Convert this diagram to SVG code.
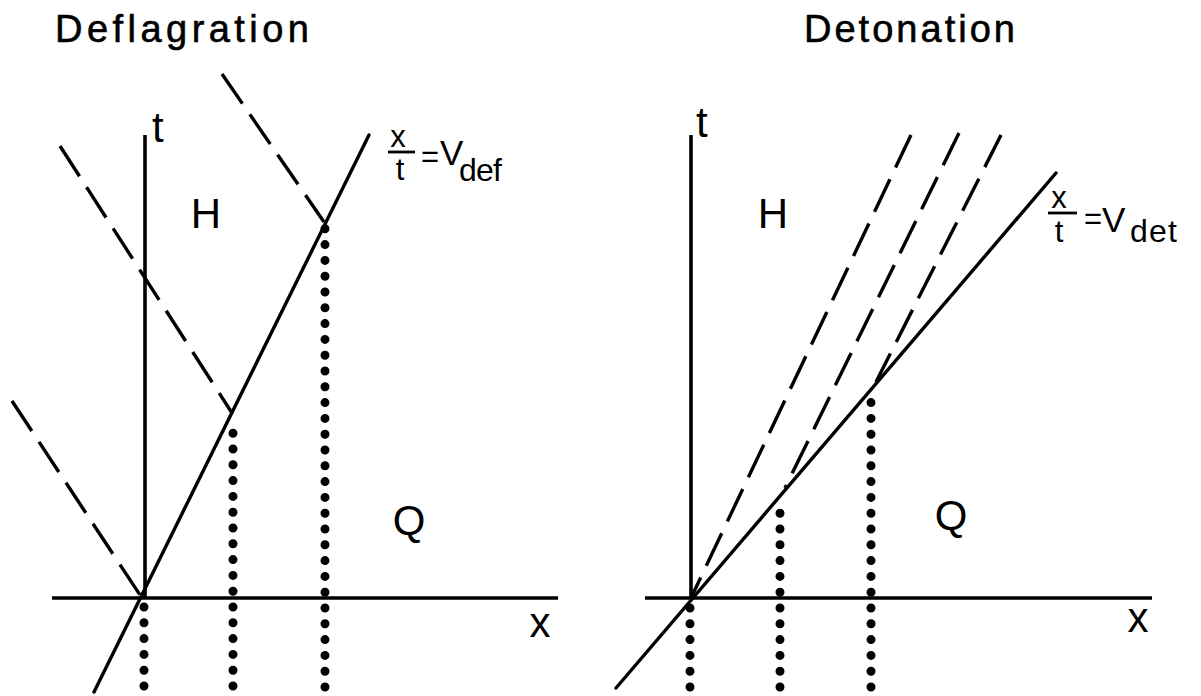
<svg xmlns="http://www.w3.org/2000/svg" width="1201" height="696" viewBox="0 0 1201 696">
<style>
text { font-family: "Liberation Sans", Arial, sans-serif; fill: #000; }
.title { font-size: 38px; stroke: #000; stroke-width: 0.6; }
.lbl { font-size: 42px; }
.frac { font-size: 31px; }
.big { font-size: 35px; }
.sub { font-size: 32px; }
.axis { stroke: #000; stroke-width: 3.6; fill: none; }
.solid { stroke: #000; stroke-width: 3.4; fill: none; stroke-linecap: round; }
.dash { stroke: #000; stroke-width: 3.4; fill: none; stroke-dasharray: 36 13; }
.dots { stroke: #000; stroke-width: 9; fill: none; stroke-linecap: round; stroke-dasharray: 0 15.8; }
.bar { stroke: #000; stroke-width: 2.8; }
</style>
<rect width="1201" height="696" fill="#fff"/>

<g id="deflagration">
  <text id="title-deflagration" class="title" x="55" y="42" textLength="254">Deflagration</text>
  <g id="axes-left">
    <line class="axis" x1="145" y1="135" x2="145" y2="598"/>
    <line class="axis" x1="52" y1="598" x2="558" y2="598"/>
    <text class="lbl" x="152" y="142">t</text>
    <text class="lbl" x="540" y="637" text-anchor="middle">x</text>
  </g>
  <text id="H-left" class="lbl" x="206" y="228" text-anchor="middle">H</text>
  <text id="Q-left" class="lbl" x="409" y="535" text-anchor="middle">Q</text>
  <g id="label-vdef">
    <text class="frac" x="398" y="147" text-anchor="middle">x</text>
    <line class="bar" x1="388" y1="152" x2="415" y2="152"/>
    <text class="frac" x="400" y="180" text-anchor="middle">t</text>
    <text class="frac" x="430" y="167" text-anchor="middle">=</text>
    <text class="big" x="440" y="165">V</text>
    <text class="sub" x="459" y="181" textLength="43">def</text>
  </g>
</g>

<g id="detonation">
  <text id="title-detonation" class="title" x="804" y="42" textLength="211">Detonation</text>
  <g id="axes-right">
    <line class="axis" x1="691" y1="135" x2="691" y2="598"/>
    <line class="axis" x1="645" y1="598" x2="1152" y2="598"/>
    <text class="lbl" x="696" y="137">t</text>
    <text class="lbl" x="1138" y="632" text-anchor="middle">x</text>
  </g>
  <text id="H-right" class="lbl" x="773" y="228" text-anchor="middle">H</text>
  <text id="Q-right" class="lbl" x="951" y="530" text-anchor="middle">Q</text>
  <g id="label-vdet">
    <text class="frac" x="1059" y="208" text-anchor="middle">x</text>
    <line class="bar" x1="1048" y1="213" x2="1077" y2="213"/>
    <text class="frac" x="1059" y="242" text-anchor="middle">t</text>
    <text class="frac" x="1093" y="229" text-anchor="middle">=</text>
    <text class="big" x="1102" y="232">V</text>
    <text class="sub" x="1130" y="242" textLength="47">det</text>
  </g>
</g>

<g id="connectors">
  <!-- deflagration -->
  <line class="solid" x1="94" y1="692" x2="369" y2="135"/>
  <line class="dash" x1="222" y1="74" x2="324" y2="222"/>
  <line class="dash" x1="60" y1="146" x2="232" y2="413"/>
  <line class="dash" x1="12" y1="401" x2="142" y2="598"/>
  <line class="dots" x1="144" y1="686" x2="144" y2="606"/>
  <line class="dots" x1="233" y1="686" x2="233" y2="420"/>
  <line class="dots" x1="325" y1="687" x2="325" y2="228"/>
  <!-- detonation -->
  <line class="solid" x1="616" y1="688" x2="1056" y2="173"/>
  <line class="dash" x1="911" y1="135" x2="691" y2="598"/>
  <line class="dash" x1="959" y1="133" x2="785" y2="488"/>
  <line class="dash" x1="1001" y1="135" x2="876" y2="382"/>
  <line class="dots" x1="690" y1="687" x2="690" y2="605"/>
  <line class="dots" x1="780" y1="687" x2="780" y2="500"/>
  <line class="dots" x1="871" y1="687" x2="871" y2="390"/>
</g>
</svg>
